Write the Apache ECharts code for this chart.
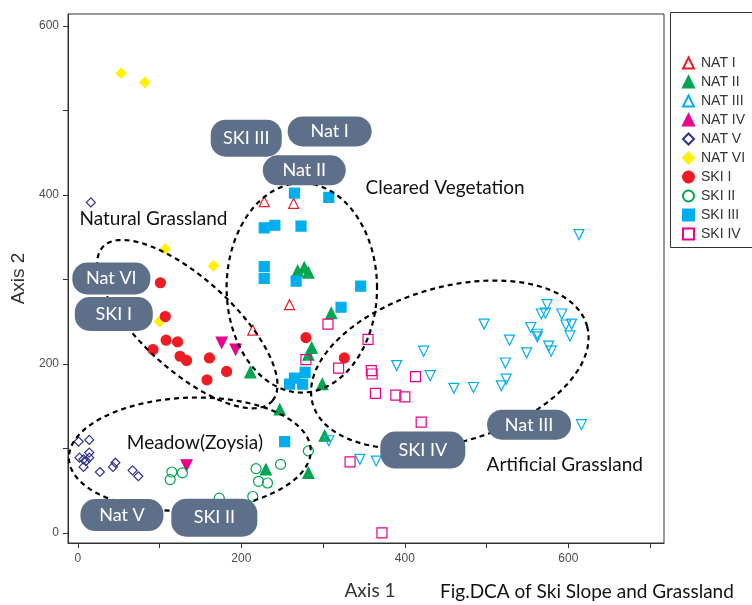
<!DOCTYPE html>
<html><head><meta charset="utf-8">
<script src="https://cdn.jsdelivr.net/npm/echarts@6/dist/echarts.min.js"></script>
<style>html,body{margin:0;padding:0;background:#fff;}#c{width:752px;height:605px;}</style>
</head><body><div id="c"></div>
<script>
// ---- data (Axis 1, Axis 2) ----
const natI   = [[228,392],[264,390],[259,270],[214,240]];
const natII  = [[269,310],[277,314],[282,308],[310,260],[286,219],[282,211],[211,190],[299,176],[247,146],[302,115],[230,75],[282,71]];
const natIII = [[574,270],[567,259],[572,260],[592,259],[497,247],[554,243],[562,235],[562,232],[597,246],[604,247],[602,233],[528,228],[576,221],[579,215],[549,213],[423,215],[523,201],[390,198],[431,186],[524,182],[518,174],[460,171],[484,172],[616,128],[613,353],[307,109],[345,87],[365,85]];
const natIV  = [[176,225],[193,217],[133,80]];
const natV   = [[16,391],[1,108],[14,110],[2,89],[7,87],[14,95],[14,89],[10,85],[7,78],[27,72],[43,78],[46,83],[67,74],[74,67]];
const natVI  = [[53,544],[82,533],[107,336],[166,316],[100,250]];
const skiI   = [[101,296],[107,256],[108,228],[122,226],[92,217],[125,209],[133,204],[161,207],[182,191],[158,181],[279,231],[326,207]];
const skiII  = [[115,72],[113,63],[128,71],[173,41],[218,76],[248,81],[282,97],[221,61],[232,59],[214,43]];
const skiIII = [[265,402],[307,397],[228,361],[241,364],[273,363],[228,315],[228,301],[267,298],[346,292],[322,267],[278,190],[265,183],[259,176],[275,176],[253,108]];
const skiIV  = [[306,247],[355,229],[279,205],[319,195],[359,192],[360,188],[364,165],[413,185],[389,163],[400,161],[420,131],[333,84],[372,0]];

const groupNames = ['NAT I','NAT II','NAT III','NAT IV','NAT V','NAT VI','SKI I','SKI II','SKI III','SKI IV'];
const xTicks = [0,100,200,300,400,500,600,700];
const xLabels = [0,200,400,600];
const yTicks = [0,100,200,300,400,500,600];
const yLabels = [0,200,400,600];

// annotation texts
const regionNames = ['Natural Grassland','Cleared Vegetation','Meadow(Zoysia)','Artificial Grassland'];
const bubbleNames = ['SKI III','Nat I','Nat II','Nat VI','SKI I','SKI IV','Nat III','Nat V','SKI II'];
const captionText = 'Fig.DCA of Ski Slope and Grassland';

// ---- styling ----
const RED='#ed1c24', GREEN='#00a651', CYAN='#00aeef', MAG='#ec008c', NAVY='#2e3192', YEL='#fff200';
const CLEAR='rgba(255,255,255,0)';
const styles = [
  {data:natI,   symbol:'triangle', rot:0,   size:10, fill:CLEAR, stroke:RED},
  {data:natII,  symbol:'triangle', rot:0,   size:11, fill:GREEN, stroke:GREEN},
  {data:natIII, symbol:'triangle', rot:180, size:10, fill:CLEAR, stroke:CYAN},
  {data:natIV,  symbol:'triangle', rot:180, size:11, fill:MAG, stroke:MAG},
  {data:natV,   symbol:'diamond',  rot:0,   size:9,  fill:CLEAR, stroke:NAVY},
  {data:natVI,  symbol:'diamond',  rot:0,   size:10, fill:YEL, stroke:YEL},
  {data:skiI,   symbol:'circle',   rot:0,   size:10, fill:RED, stroke:RED},
  {data:skiII,  symbol:'circle',   rot:0,   size:10, fill:CLEAR, stroke:GREEN},
  {data:skiIII, symbol:'rect',     rot:0,   size:10, fill:CYAN, stroke:CYAN},
  {data:skiIV,  symbol:'rect',     rot:0,   size:10, fill:CLEAR, stroke:MAG}
];

const GILL = 'Lato, "Open Sans", sans-serif';
const ARIAL = '"Liberation Sans", Arial, sans-serif';

const chart = echarts.init(document.getElementById('c'));
chart.setOption({
  animation:false,
  backgroundColor:'#fff',
  grid:{left:68, top:14, right:88, bottom:61, show:true, borderColor:'#333', borderWidth:1},
  xAxis:{type:'value', min:-12, max:717,
    axisLine:{show:true, onZero:false, lineStyle:{color:'#333'}},
    axisTick:{show:true, length:5, customValues:xTicks, lineStyle:{color:'#333'}},
    axisLabel:{customValues:xLabels, color:'#4d4d4d', fontSize:12, fontFamily:ARIAL, margin:10},
    splitLine:{show:false},
    name:'Axis 1', nameLocation:'middle', nameGap:38,
    nameTextStyle:{color:'#333', fontSize:19, fontFamily:GILL, padding:[0,0,0,8]}},
  yAxis:{type:'value', min:-12, max:614,
    axisLine:{show:true, onZero:false, lineStyle:{color:'#333'}},
    axisTick:{show:true, length:5, customValues:yTicks, lineStyle:{color:'#333'}},
    axisLabel:{customValues:yLabels, color:'#4d4d4d', fontSize:12, fontFamily:ARIAL, margin:9},
    splitLine:{show:false},
    name:'Axis 2', nameLocation:'middle', nameGap:31,
    nameTextStyle:{color:'#333', fontSize:19, fontFamily:ARIAL}},
  legend:{orient:'vertical', left:677, top:51, itemWidth:11, itemHeight:11, itemGap:5,
    textStyle:{fontSize:14, color:'#333', fontFamily:ARIAL, lineHeight:14, padding:[0,0,0,2]},
    data:groupNames},
  series: styles.map((s,i)=>({
    type:'scatter', name:groupNames[i], data:s.data,
    symbol:s.symbol, symbolSize:s.size, symbolRotate:s.rot,
    itemStyle:{color:s.fill, borderColor:s.stroke, borderWidth:1.2, opacity:1},
    emphasis:{disabled:true}
  }))
});

// ---- annotations (data coordinates) ----
const ellipses = [
  {cx:274, cy:290, a:92,  b:124, deg:0},
  {cx:134, cy:247, a:138, b:55,  deg:-41},
  {cx:455, cy:199, a:174, b:92,  deg:15},
  {cx:137, cy:93,  a:148, b:67,  deg:2}
];
const regionPos = [[2,371],[352,408],[60,106],[500,81]];
const bubbles = [
  {at:[206,467], w:71, h:37}, {at:[308,475], w:84, h:30}, {at:[277,429], w:83, h:30},
  {at:[41,301], w:78, h:32},  {at:[44,259], w:78, h:34},  {at:[422,98], w:85, h:37},
  {at:[552,128], w:84, h:30}, {at:[54,21], w:83, h:32},   {at:[167,18], w:86, h:38}
];

const toPx = p => chart.convertToPixel({gridIndex:0}, p);
const els = [];
ellipses.forEach(e=>{
  const th = e.deg*Math.PI/180, pts=[];
  for(let i=0;i<=160;i++){
    const t=i/160*Math.PI*2;
    const x=e.cx+e.a*Math.cos(t)*Math.cos(th)-e.b*Math.sin(t)*Math.sin(th);
    const y=e.cy+e.a*Math.cos(t)*Math.sin(th)+e.b*Math.sin(t)*Math.cos(th);
    pts.push(toPx([x,y]));
  }
  els.push({type:'polyline', shape:{points:pts}, style:{stroke:'#000', lineWidth:2.2, lineDash:[5,4], fill:null}, z:3});
});
regionNames.forEach((t,i)=>{
  const p=toPx(regionPos[i]);
  els.push({type:'text', x:p[0], y:p[1], style:{text:t, fill:'#111', font:'19px '+GILL, textVerticalAlign:'middle', textAlign:'left'}, z:4});
});
bubbles.forEach((b,i)=>{
  const p=toPx(b.at);
  els.push({type:'rect', shape:{x:p[0]-b.w/2, y:p[1]-b.h/2, width:b.w, height:b.h, r:Math.min(15,b.h/2)}, style:{fill:'#5d6f89'}, z:5});
  els.push({type:'text', x:p[0], y:p[1], style:{text:bubbleNames[i], fill:'#fff', font:'18px '+GILL, textAlign:'center', textVerticalAlign:'middle'}, z:6});
});
els.push({type:'text', left:440, top:582, style:{text:captionText, fill:'#111', font:'19px '+GILL}, z:6});
els.push({type:'rect', shape:{x:670.5, y:12.5, width:100, height:235}, style:{fill:null, stroke:'#333', lineWidth:1}, z:1});
chart.setOption({graphic:{elements:els}});
</script></body></html>
